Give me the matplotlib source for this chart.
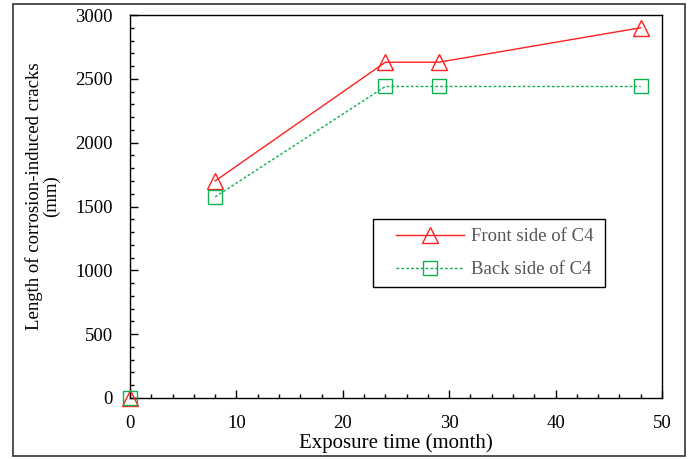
import matplotlib
matplotlib.use("Agg")
from matplotlib import pyplot as plt
from matplotlib.ticker import MultipleLocator
from matplotlib.patches import Rectangle

# Data
months = [0, 8, 24, 29, 48]
front_c4 = [0, 1700, 2630, 2630, 2900]
back_c4 = [0, 1575, 2440, 2440, 2440]

plt.rcParams["font.family"] = ["Liberation Serif", "DejaVu Serif"]

W, H = 699, 459
fig = plt.figure(figsize=(W / 100, H / 100), dpi=100)
ax = fig.add_axes([130 / W, 1 - 398 / H, 532 / W, 383 / H])

red = "#ff2020"
green = "#10b050"
front_style = dict(color=red, lw=1, marker="^", markersize=11,
                   markerfacecolor="none", markeredgecolor=red,
                   markeredgewidth=1, clip_on=False, zorder=3)
back_style = dict(color=green, lw=1, ls=(0, (2, 1.5)), marker="s",
                  markersize=10, markerfacecolor="none", markeredgecolor=green,
                  markeredgewidth=1, clip_on=False, zorder=3)

# first point (month 0) is not joined to the rest in the original
ax.plot(months[1:], front_c4[1:], label="Front side of C4", **front_style)
ax.plot(months[:1], front_c4[:1], **dict(front_style, ls="none"))
ax.plot(months[1:], back_c4[1:], label="Back side of C4", **back_style)
ax.plot(months[:1], back_c4[:1], **dict(back_style, ls="none"))

ax.set_xlim(0, 50)
ax.set_ylim(0, 3000)
ax.xaxis.set_major_locator(MultipleLocator(10))
ax.xaxis.set_minor_locator(MultipleLocator(2))
ax.yaxis.set_major_locator(MultipleLocator(500))
ax.yaxis.set_minor_locator(MultipleLocator(100))
ax.tick_params(which="both", direction="in", top=False, right=False,
               labelsize=13.5, width=1, pad=12.5)
ax.tick_params(which="major", length=6)
ax.tick_params(which="minor", length=3)
for s in ax.spines.values():
    s.set_linewidth(1)

ax.set_xlabel("Exposure time (month)", fontsize=15, labelpad=1)
ax.set_ylabel("Length of corrosion-induced cracks\n(mm)", fontsize=13.5,
              linespacing=1.0)
ax.yaxis.set_label_coords(-0.131, 0.527)

# legend without its own frame; the box is drawn separately so that the
# side padding can be wider than the top/bottom padding
leg = ax.legend(loc="upper left",
                bbox_to_anchor=((396 - 130) / 532, (398 - 228) / 383),
                borderaxespad=0, borderpad=0, fontsize=13.5, frameon=False,
                handlelength=3.6, labelspacing=0.85, handletextpad=0.4)
for t in leg.get_texts():
    t.set_color("#555555")
fig.patches.append(Rectangle((373 / W, 1 - 287 / H), 232 / W, 68 / H,
                             transform=fig.transFigure, fill=False,
                             edgecolor="black", lw=1))

# outer border of the picture
fig.patches.append(Rectangle((13 / W, 1 - 456 / H), 672 / W, 452 / H,
                             transform=fig.transFigure, fill=False,
                             edgecolor="#333333", lw=1.2))

plt.savefig("out.png", dpi=100)
